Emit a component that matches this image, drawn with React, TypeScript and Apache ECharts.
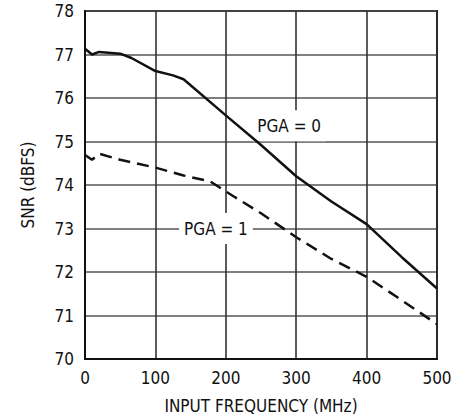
import React, { useEffect, useRef } from "react";
import * as echarts from "echarts";

const freqPga0 = [0, 10, 20, 50, 66, 100, 125, 140, 200, 250, 300, 350, 400, 450, 500];
const snrPga0 = [77.13, 77.0, 77.06, 77.02, 76.92, 76.62, 76.52, 76.43, 75.6, 74.92, 74.2, 73.62, 73.1, 72.34, 71.62];

const freqPga1 = [0, 10, 20, 50, 100, 140, 178, 213, 250, 300, 350, 400, 450, 500];
const snrPga1 = [74.69, 74.58, 74.72, 74.58, 74.4, 74.22, 74.08, 73.72, 73.35, 72.8, 72.3, 71.89, 71.35, 70.8];

const xTicks = [0, 100, 200, 300, 400, 500];
const yTicks = [70, 71, 72, 73, 74, 75, 76, 77, 78];

const labelPga0 = { text: "PGA = 0", x: 290, y: 75.36 };
const labelPga1 = { text: "PGA = 1", x: 186, y: 73.0 };

const FONT = "'DejaVu Sans Condensed', 'Liberation Sans Narrow', sans-serif";

export default function App() {
  const ref = useRef<HTMLDivElement>(null);
  useEffect(() => {
    if (!ref.current) return;
    const chart = echarts.init(ref.current, null, { renderer: "svg" });
    const annot = (l: { text: string; x: number; y: number }) => ({
      symbol: "rect",
      symbolSize: 1,
      silent: true,
      itemStyle: { color: "rgba(0,0,0,0)" },
      data: [
        {
          coord: [l.x, l.y],
          label: {
            show: true,
            position: "inside",
            formatter: l.text,
            color: "#111",
            fontFamily: FONT,
            fontSize: 17,
            backgroundColor: "#fff",
            padding: [7, 5, 7, 5],
          },
        },
      ],
    });
    chart.setOption({
      animation: false,
      grid: {
        left: 85,
        top: 11,
        width: 352,
        height: 352,
        show: true,
        borderColor: "#111",
        borderWidth: 2,
      },
      xAxis: {
        type: "value",
        min: xTicks[0],
        max: xTicks[xTicks.length - 1],
        interval: 100,
        name: "INPUT FREQUENCY (MHz)",
        nameLocation: "middle",
        nameGap: 38,
        nameTextStyle: { fontFamily: FONT, fontSize: 17, color: "#111" },
        axisLine: { show: true, onZero: false, lineStyle: { color: "#111", width: 2 } },
        axisTick: { show: false },
        axisLabel: { fontFamily: FONT, fontSize: 17, color: "#111", margin: 10 },
        splitLine: { show: true, lineStyle: { color: "#333", width: 1.6 } },
      },
      yAxis: {
        type: "value",
        min: yTicks[0],
        max: yTicks[yTicks.length - 1],
        interval: 1,
        name: "SNR (dBFS)",
        nameLocation: "middle",
        nameGap: 49,
        nameTextStyle: { fontFamily: FONT, fontSize: 17, color: "#111" },
        axisLine: { show: true, lineStyle: { color: "#111", width: 2 } },
        axisTick: { show: false },
        axisLabel: { fontFamily: FONT, fontSize: 17, color: "#111", margin: 11 },
        splitLine: { show: true, lineStyle: { color: "#555", width: 1.6 } },
      },
      series: [
        {
          type: "line",
          data: freqPga0.map((f, i) => [f, snrPga0[i]]),
          showSymbol: false,
          symbol: "none",
          lineStyle: { color: "#111", width: 2.5 },
          z: 5,
          markPoint: annot(labelPga0),
        },
        {
          type: "line",
          data: freqPga1.map((f, i) => [f, snrPga1[i]]),
          showSymbol: false,
          symbol: "none",
          lineStyle: { color: "#111", width: 2.5, type: [12, 7] },
          z: 5,
          markPoint: annot(labelPga1),
        },
      ],
    });
    return () => chart.dispose();
  }, []);
  return <div ref={ref} style={{ width: 469, height: 419, position: "absolute", left: 0, top: 0 }} />;
}
